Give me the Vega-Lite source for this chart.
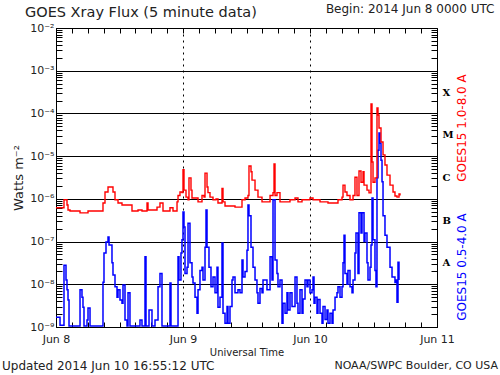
{
"$schema": "https://vega.github.io/schema/vega-lite/v6.json",
"width": 381, "height": 299,
"autosize": {"type": "none"},
"padding": {"left": 56, "top": 28, "right": 63, "bottom": 48},
"background": "white",
"config": {"view": {"stroke": "black", "strokeWidth": 1}, "axis": {"labelFont": "DejaVu Sans", "titleFont": "DejaVu Sans", "labelColor": "#222", "titleColor": "#222", "tickColor": "black", "domainColor": "black", "titleFontWeight": "normal"}, "text": {"font": "DejaVu Sans", "color": "#222"}},
"datasets": {
"long": [
{"hour":0,"flux":6.2e-7},{"hour":1.13,"flux":6.2e-7},{"hour":1.51,"flux":9.5e-7},{"hour":2.08,"flux":7.2e-7},{"hour":2.27,"flux":5.5e-7},{"hour":2.65,"flux":5.2e-7},{"hour":4.16,"flux":5.2e-7},{"hour":4.54,"flux":4.7e-7},{"hour":5.86,"flux":4.7e-7},{"hour":6.05,"flux":5.2e-7},{"hour":8.69,"flux":5.2e-7},{"hour":8.88,"flux":8.0e-7},{"hour":9.26,"flux":1.45e-6},{"hour":9.83,"flux":1.9e-6},{"hour":10.39,"flux":1.9e-6},{"hour":10.77,"flux":1.45e-6},{"hour":11.15,"flux":9.5e-7},{"hour":11.72,"flux":8.0e-7},{"hour":12.47,"flux":7.2e-7},{"hour":13.61,"flux":7.2e-7},{"hour":14.36,"flux":5.2e-7},{"hour":15.5,"flux":5.5e-7},{"hour":16.25,"flux":5.2e-7},{"hour":17.01,"flux":5.2e-7},{"hour":17.2,"flux":8.0e-7},{"hour":17.39,"flux":5.5e-7},{"hour":18.71,"flux":5.5e-7},{"hour":19.09,"flux":6.4e-7},{"hour":19.65,"flux":8.0e-7},{"hour":20.22,"flux":5.2e-7},{"hour":21.17,"flux":5.2e-7},{"hour":21.54,"flux":6.2e-7},{"hour":22.11,"flux":5.2e-7},{"hour":22.87,"flux":8.5e-7},{"hour":23.06,"flux":1.2e-6},{"hour":23.43,"flux":1.45e-6},{"hour":23.81,"flux":1.4e-6},{"hour":24.0,"flux":4.8e-6},{"hour":24.19,"flux":1.6e-6},{"hour":24.57,"flux":1.1e-6},{"hour":24.95,"flux":9.5e-7},{"hour":25.13,"flux":3.1e-6},{"hour":25.51,"flux":1.6e-6},{"hour":25.7,"flux":1.05e-6},{"hour":26.65,"flux":1.05e-6},{"hour":26.84,"flux":8.5e-7},{"hour":27.59,"flux":1.2e-6},{"hour":27.97,"flux":1.1e-6},{"hour":28.16,"flux":4.0e-6},{"hour":28.54,"flux":1.9e-6},{"hour":28.72,"flux":1.4e-6},{"hour":29.1,"flux":1.1e-6},{"hour":29.67,"flux":9.5e-7},{"hour":30.24,"flux":1.0e-6},{"hour":30.61,"flux":8.0e-7},{"hour":31.37,"flux":1.75e-6},{"hour":31.56,"flux":8.5e-7},{"hour":31.94,"flux":6.8e-7},{"hour":33.45,"flux":6.8e-7},{"hour":33.83,"flux":6.4e-7},{"hour":34.77,"flux":6.4e-7},{"hour":35.15,"flux":9.5e-7},{"hour":35.72,"flux":1.05e-6},{"hour":36.28,"flux":1.2e-6},{"hour":36.47,"flux":5.9e-6},{"hour":36.85,"flux":4.3e-6},{"hour":37.04,"flux":2.75e-6},{"hour":37.61,"flux":1.6e-6},{"hour":38.17,"flux":1.1e-6},{"hour":38.93,"flux":8.5e-7},{"hour":39.87,"flux":8.5e-7},{"hour":40.45,"flux":1.2e-6},{"hour":41.01,"flux":1.4e-6},{"hour":41.2,"flux":6.6e-6},{"hour":41.39,"flux":1.2e-6},{"hour":41.76,"flux":1.4e-6},{"hour":42.33,"flux":8.5e-7},{"hour":43.65,"flux":8.5e-7},{"hour":44.22,"flux":9.5e-7},{"hour":45.17,"flux":1.05e-6},{"hour":45.73,"flux":8.5e-7},{"hour":46.49,"flux":9.5e-7},{"hour":47.43,"flux":9.5e-7},{"hour":48.0,"flux":1.05e-6},{"hour":48.57,"flux":9.5e-7},{"hour":49.51,"flux":9.5e-7},{"hour":49.89,"flux":8.5e-7},{"hour":50.84,"flux":8.5e-7},{"hour":51.4,"flux":8.0e-7},{"hour":52.73,"flux":8.0e-7},{"hour":53.29,"flux":9.5e-7},{"hour":54.05,"flux":1.1e-6},{"hour":54.24,"flux":2.1e-6},{"hour":54.61,"flux":1.45e-6},{"hour":54.99,"flux":1.2e-6},{"hour":55.56,"flux":9.5e-7},{"hour":56.13,"flux":1.2e-6},{"hour":56.5,"flux":3.2e-6},{"hour":56.88,"flux":1.2e-6},{"hour":57.26,"flux":4.5e-6},{"hour":57.64,"flux":2.45e-6},{"hour":58.02,"flux":4.3e-6},{"hour":58.21,"flux":2.1e-6},{"hour":58.77,"flux":1.6e-6},{"hour":59.15,"flux":1.38e-6},{"hour":59.53,"flux":1.66e-4},{"hour":59.72,"flux":7.3e-6},{"hour":59.91,"flux":2.45e-6},{"hour":60.28,"flux":3.1e-6},{"hour":60.66,"flux":1.35e-4},{"hour":60.85,"flux":9.2e-5},{"hour":61.04,"flux":4.55e-5},{"hour":61.42,"flux":2.14e-5},{"hour":61.8,"flux":1.07e-5},{"hour":62.17,"flux":6.2e-6},{"hour":62.55,"flux":3.6e-6},{"hour":63.12,"flux":2.1e-6},{"hour":63.69,"flux":1.45e-6},{"hour":64.06,"flux":1.17e-6},{"hour":64.44,"flux":1.1e-6},{"hour":64.82,"flux":1.3e-6},{"hour":65.01,"flux":1.2e-6}
],
"short": [
{"hour":0,"flux":1.7e-9},{"hour":0.76,"flux":1.1e-9},{"hour":1.32,"flux":1.1e-9},{"hour":1.51,"flux":2.8e-8},{"hour":1.89,"flux":1.26e-8},{"hour":2.08,"flux":7.4e-9},{"hour":2.27,"flux":4.3e-9},{"hour":2.46,"flux":1.05e-9},{"hour":4.16,"flux":1.05e-9},{"hour":4.54,"flux":7.4e-9},{"hour":4.91,"flux":5.0e-9},{"hour":5.1,"flux":2.9e-9},{"hour":5.29,"flux":1.05e-9},{"hour":5.86,"flux":1.45e-9},{"hour":6.05,"flux":2.8e-9},{"hour":6.43,"flux":1.05e-9},{"hour":8.69,"flux":1.05e-9},{"hour":8.88,"flux":1.12e-8},{"hour":9.07,"flux":5.4e-8},{"hour":9.45,"flux":9.8e-8},{"hour":9.83,"flux":1.28e-7},{"hour":10.02,"flux":8.3e-8},{"hour":10.58,"flux":3.2e-8},{"hour":10.77,"flux":1.66e-8},{"hour":11.15,"flux":8.7e-9},{"hour":11.53,"flux":5.0e-9},{"hour":11.72,"flux":7.4e-9},{"hour":12.09,"flux":4.3e-9},{"hour":12.47,"flux":3.6e-9},{"hour":12.66,"flux":9.6e-9},{"hour":13.04,"flux":1.45e-9},{"hour":13.42,"flux":1.05e-9},{"hour":13.61,"flux":6.3e-9},{"hour":13.98,"flux":1.05e-9},{"hour":15.5,"flux":1.05e-9},{"hour":15.87,"flux":1.45e-9},{"hour":16.25,"flux":1.05e-9},{"hour":16.82,"flux":4.4e-8},{"hour":17.01,"flux":1.05e-9},{"hour":17.58,"flux":2.5e-9},{"hour":18.14,"flux":1.05e-9},{"hour":18.71,"flux":1.45e-9},{"hour":19.28,"flux":8.7e-9},{"hour":19.65,"flux":1.8e-8},{"hour":20.03,"flux":1.05e-9},{"hour":21.17,"flux":1.05e-9},{"hour":21.54,"flux":1.07e-8},{"hour":21.73,"flux":1.05e-9},{"hour":22.49,"flux":1.05e-9},{"hour":23.06,"flux":4.4e-8},{"hour":23.24,"flux":1.26e-8},{"hour":23.62,"flux":5.4e-8},{"hour":23.81,"flux":1.1e-7},{"hour":24.0,"flux":4.9e-7},{"hour":24.19,"flux":2.2e-7},{"hour":24.38,"flux":1.8e-8},{"hour":24.76,"flux":2.5e-8},{"hour":24.95,"flux":2.7e-7},{"hour":25.32,"flux":3.2e-8},{"hour":25.7,"flux":1.48e-8},{"hour":25.89,"flux":1.07e-8},{"hour":26.27,"flux":5.0e-9},{"hour":26.65,"flux":2.1e-9},{"hour":26.84,"flux":7.4e-9},{"hour":27.21,"flux":2.1e-8},{"hour":27.59,"flux":2.5e-8},{"hour":27.78,"flux":1.26e-8},{"hour":28.16,"flux":7.4e-8},{"hour":28.35,"flux":5.5e-7},{"hour":28.54,"flux":7.4e-8},{"hour":28.91,"flux":2.5e-8},{"hour":29.29,"flux":8.7e-9},{"hour":29.67,"flux":1.48e-8},{"hour":30.05,"flux":6.3e-9},{"hour":30.43,"flux":2.5e-8},{"hour":30.61,"flux":2.9e-9},{"hour":30.99,"flux":5.0e-9},{"hour":31.37,"flux":9.3e-8},{"hour":31.56,"flux":2.1e-9},{"hour":31.94,"flux":1.23e-9},{"hour":32.32,"flux":3.0e-9},{"hour":32.5,"flux":1.23e-9},{"hour":32.88,"flux":3.0e-9},{"hour":33.26,"flux":1.26e-8},{"hour":33.45,"flux":1.48e-8},{"hour":33.83,"flux":6.3e-9},{"hour":34.39,"flux":7.4e-9},{"hour":34.77,"flux":6.3e-9},{"hour":35.15,"flux":3.7e-8},{"hour":35.34,"flux":1.48e-8},{"hour":35.72,"flux":2.0e-8},{"hour":36.09,"flux":6.3e-8},{"hour":36.28,"flux":7.2e-7},{"hour":36.47,"flux":4.0e-7},{"hour":36.85,"flux":7.4e-8},{"hour":37.23,"flux":2.5e-8},{"hour":37.61,"flux":1.26e-8},{"hour":37.98,"flux":6.3e-9},{"hour":38.17,"flux":3.6e-9},{"hour":38.55,"flux":8.0e-9},{"hour":38.93,"flux":6.3e-9},{"hour":39.12,"flux":1.26e-8},{"hour":39.87,"flux":7.4e-9},{"hour":40.45,"flux":4.4e-8},{"hour":40.82,"flux":1.26e-8},{"hour":41.01,"flux":9.5e-7},{"hour":41.39,"flux":3.7e-8},{"hour":41.76,"flux":1.8e-8},{"hour":41.95,"flux":8.7e-9},{"hour":42.33,"flux":1.26e-8},{"hour":42.71,"flux":1.23e-9},{"hour":42.9,"flux":3.6e-9},{"hour":43.28,"flux":2.1e-9},{"hour":43.65,"flux":6.3e-9},{"hour":43.84,"flux":2.5e-9},{"hour":44.22,"flux":6.3e-9},{"hour":44.6,"flux":3.0e-9},{"hour":45.17,"flux":1.48e-8},{"hour":45.54,"flux":3.6e-9},{"hour":45.73,"flux":2.1e-9},{"hour":46.11,"flux":7.4e-9},{"hour":46.49,"flux":2.1e-9},{"hour":46.68,"flux":4.5e-9},{"hour":47.06,"flux":1.26e-8},{"hour":47.43,"flux":8.7e-9},{"hour":47.62,"flux":1.26e-8},{"hour":48.0,"flux":6.3e-9},{"hour":48.38,"flux":7.4e-9},{"hour":48.57,"flux":1.48e-8},{"hour":48.76,"flux":3.6e-9},{"hour":48.95,"flux":5.0e-9},{"hour":49.32,"flux":2.1e-9},{"hour":49.51,"flux":4.4e-9},{"hour":49.89,"flux":2.1e-9},{"hour":50.27,"flux":1.23e-9},{"hour":50.46,"flux":3.0e-9},{"hour":50.84,"flux":1.5e-9},{"hour":51.21,"flux":2.5e-9},{"hour":51.4,"flux":1.23e-9},{"hour":51.78,"flux":2.1e-9},{"hour":52.16,"flux":1.23e-9},{"hour":52.35,"flux":2.5e-9},{"hour":52.73,"flux":5.0e-9},{"hour":53.1,"flux":6.3e-9},{"hour":53.29,"flux":8.7e-9},{"hour":53.67,"flux":5.0e-9},{"hour":54.05,"flux":8.7e-9},{"hour":54.24,"flux":3.2e-8},{"hour":54.43,"flux":1.4e-7},{"hour":54.61,"flux":1.8e-8},{"hour":54.99,"flux":1.0e-8},{"hour":55.18,"flux":2.1e-8},{"hour":55.56,"flux":8.7e-9},{"hour":55.94,"flux":6.3e-9},{"hour":56.13,"flux":1.26e-8},{"hour":56.5,"flux":5.4e-8},{"hour":56.69,"flux":1.58e-7},{"hour":57.07,"flux":1.8e-8},{"hour":57.26,"flux":4.7e-7},{"hour":57.64,"flux":1.58e-7},{"hour":57.83,"flux":4.7e-7},{"hour":58.21,"flux":1.0e-7},{"hour":58.39,"flux":1.58e-7},{"hour":58.77,"flux":3.2e-8},{"hour":58.96,"flux":1.26e-8},{"hour":59.34,"flux":2.5e-8},{"hour":59.53,"flux":8.3e-8},{"hour":59.72,"flux":1.05e-6},{"hour":59.91,"flux":1.1e-7},{"hour":60.28,"flux":2.1e-8},{"hour":60.47,"flux":8.7e-9},{"hour":60.66,"flux":3.1e-6},{"hour":60.85,"flux":1.38e-5},{"hour":61.04,"flux":3.5e-5},{"hour":61.23,"flux":2.0e-5},{"hour":61.42,"flux":8.0e-6},{"hour":61.61,"flux":2.5e-6},{"hour":61.8,"flux":4.0e-7},{"hour":62.17,"flux":1.4e-7},{"hour":62.55,"flux":7.4e-8},{"hour":63.12,"flux":2.5e-8},{"hour":63.5,"flux":1.48e-8},{"hour":64.06,"flux":1.1e-8},{"hour":64.25,"flux":1.26e-8},{"hour":64.44,"flux":3.8e-9},{"hour":64.63,"flux":3.3e-8},{"hour":64.82,"flux":1.26e-8}
]
},
"resolve": {"axis": {"x": "independent", "y": "independent"}},
"layer": [
{
"data": {"name": "short"},
"mark": {"type": "line", "color": "#0000ff", "strokeWidth": 1.5, "interpolate": "step-after", "clip": true},
"encoding": {
"x": {"field": "hour", "type": "quantitative", "scale": {"domain": [0, 72], "nice": false, "zero": false},
"axis": {"orient": "bottom", "values": [0,3,6,9,12,15,18,21,24,27,30,33,36,39,42,45,48,51,54,57,60,63,66,69,72],
"labelExpr": "datum.value % 24 === 0 ? 'Jun ' + (8 + datum.value/24) : ''",
"tickSize": -5, "labelPadding": 11, "labelFontSize": 11, "labelFlush": false, "labelOverlap": false, "labelBound": false,
"grid": true, "gridColor": "black", "gridDash": [2, 4], "gridOpacity": {"condition": {"test": "datum.value === 24 || datum.value === 48", "value": 1}, "value": 0},
"title": "Universal Time", "titleFontSize": 10, "titlePadding": 3}},
"y": {"field": "flux", "type": "quantitative", "scale": {"type": "log", "domain": [1e-9, 1e-2], "nice": false},
"axis": {"orient": "left", "values": [1e-9,2e-9,3e-9,4e-9,5e-9,6e-9,7e-9,8e-9,9e-9,1e-8,2e-8,3e-8,4e-8,5e-8,6e-8,7e-8,8e-8,9e-8,1e-7,2e-7,3e-7,4e-7,5e-7,6e-7,7e-7,8e-7,9e-7,1e-6,2e-6,3e-6,4e-6,5e-6,6e-6,7e-6,8e-6,9e-6,1e-5,2e-5,3e-5,4e-5,5e-5,6e-5,7e-5,8e-5,9e-5,1e-4,2e-4,3e-4,4e-4,5e-4,6e-4,7e-4,8e-4,9e-4,1e-3,2e-3,3e-3,4e-3,5e-3,6e-3,7e-3,8e-3,9e-3,1e-2],
"labelExpr": "abs(log(datum.value)/LN10 - round(log(datum.value)/LN10)) < 0.01 ? '10⁻' + ['⁰','¹','²','³','⁴','⁵','⁶','⁷','⁸','⁹'][-round(log(datum.value)/LN10)] : ''",
"tickSize": -6, "labelPadding": 8, "labelFontSize": 11, "labelFlush": false, "labelOverlap": false, "labelBound": false,
"grid": true, "gridColor": "black", "gridOpacity": {"condition": {"test": "abs(log(datum.value)/LN10 - round(log(datum.value)/LN10)) < 0.01", "value": 1}, "value": 0},
"title": "Watts m⁻²", "titleFontSize": 13, "titlePadding": 4}}
}
},
{
"data": {"name": "long"},
"mark": {"type": "line", "color": "#ff0000", "strokeWidth": 1.4, "interpolate": "step-after", "clip": true},
"encoding": {
"x": {"field": "hour", "type": "quantitative", "scale": {"domain": [0, 72], "nice": false, "zero": false}, "axis": null},
"y": {"field": "flux", "type": "quantitative", "scale": {"type": "log", "domain": [1e-9, 1e-2], "nice": false}, "axis": null}
}
},
{
"data": {"values": [{}]},
"mark": {"type": "text", "text": "GOES15 1.0-8.0 A", "angle": 270, "align": "center", "baseline": "middle", "fontSize": 12, "color": "#ff0000"},
"encoding": {
"x": {"datum": 76.7, "type": "quantitative", "scale": {"domain": [0, 72], "nice": false, "zero": false},
"axis": {"orient": "top", "values": [0,3,6,9,12,15,18,21,24,27,30,33,36,39,42,45,48,51,54,57,60,63,66,69,72], "labels": false, "tickSize": -5, "domain": false, "grid": false, "title": null}},
"y": {"datum": 4.56e-5, "type": "quantitative", "scale": {"type": "log", "domain": [1e-9, 1e-2], "nice": false},
"axis": {"orient": "right", "values": [2e-9,3e-9,4e-9,5e-9,6e-9,7e-9,8e-9,9e-9,1e-8,2e-8,3e-8,3.1623e-8,4e-8,5e-8,6e-8,7e-8,8e-8,9e-8,1e-7,2e-7,3e-7,3.1623e-7,4e-7,5e-7,6e-7,7e-7,8e-7,9e-7,1e-6,2e-6,3e-6,3.1623e-6,4e-6,5e-6,6e-6,7e-6,8e-6,9e-6,1e-5,2e-5,3e-5,3.1623e-5,4e-5,5e-5,6e-5,7e-5,8e-5,9e-5,1e-4,2e-4,3e-4,3.1623e-4,4e-4,5e-4,6e-4,7e-4,8e-4,9e-4,1e-3,2e-3,3e-3,4e-3,5e-3,6e-3,7e-3,8e-3,9e-3],
"labelExpr": "abs(log(datum.value)/LN10 - floor(log(datum.value)/LN10) - 0.5) < 0.01 ? ['A','B','C','M','X'][floor(log(datum.value)/LN10) + 8] : ''",
"tickSize": -6, "tickOpacity": {"condition": {"test": "abs(log(datum.value)/LN10 - floor(log(datum.value)/LN10) - 0.5) < 0.01", "value": 0}, "value": 1},
"labelPadding": 11, "labelFont": "DejaVu Serif", "labelFontWeight": "bold", "labelFontSize": 10, "labelColor": "black", "labelFlush": false, "labelOverlap": false, "labelBound": false,
"domain": false, "grid": false, "title": null}}
}
},
{
"data": {"values": [{}]},
"mark": {"type": "text", "text": "GOES15 0.5-4.0 A", "angle": 270, "align": "center", "baseline": "middle", "fontSize": 12, "color": "#0000ff"},
"encoding": {
"x": {"datum": 76.7, "type": "quantitative", "axis": null},
"y": {"datum": 2.54e-8, "type": "quantitative", "axis": null}
}
},
{
"data": {"values": [{}]},
"mark": {"type": "text", "text": "GOES Xray Flux (5 minute data)", "align": "left", "baseline": "middle", "fontSize": 14.5},
"encoding": {
"x": {"datum": -5.86, "type": "quantitative", "axis": null},
"y": {"datum": 0.0226, "type": "quantitative", "axis": null}
}
},
{
"data": {"values": [{}]},
"mark": {"type": "text", "text": "Begin:  2014 Jun 8 0000 UTC", "align": "left", "baseline": "middle", "fontSize": 12},
"encoding": {
"x": {"datum": 51.0, "type": "quantitative", "axis": null},
"y": {"datum": 0.0279, "type": "quantitative", "axis": null}
}
},
{
"data": {"values": [{}]},
"mark": {"type": "text", "text": "Updated 2014 Jun 10 16:55:12 UTC", "align": "left", "baseline": "middle", "fontSize": 12},
"encoding": {
"x": {"datum": -10.2, "type": "quantitative", "axis": null},
"y": {"datum": 1.22e-10, "type": "quantitative", "axis": null}
}
},
{
"data": {"values": [{}]},
"mark": {"type": "text", "text": "NOAA/SWPC Boulder, CO USA", "align": "right", "baseline": "middle", "fontSize": 11},
"encoding": {
"x": {"datum": 83.53, "type": "quantitative", "axis": null},
"y": {"datum": 1.22e-10, "type": "quantitative", "axis": null}
}
}
]
}
